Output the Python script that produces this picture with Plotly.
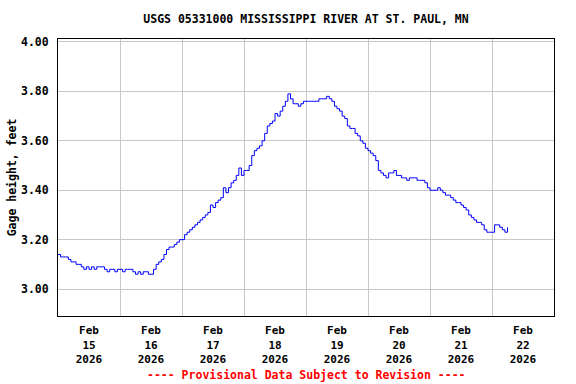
import pandas as pd
import plotly.graph_objects as go

# Gage height (feet), hourly readings starting 2026-02-15 00:00
start = "2026-02-15 00:00"
gage_feb15 = [3.14, 3.13, 3.13, 3.13, 3.12, 3.11, 3.11, 3.10, 3.10, 3.09, 3.08, 3.09,
              3.08, 3.09, 3.08, 3.09, 3.09, 3.09, 3.08, 3.07, 3.08, 3.08, 3.07, 3.08]
gage_feb16 = [3.08, 3.07, 3.08, 3.08, 3.08, 3.07, 3.06, 3.07, 3.06, 3.07, 3.07, 3.06,
              3.06, 3.08, 3.10, 3.11, 3.12, 3.14, 3.16, 3.17, 3.17, 3.18, 3.19, 3.20]
gage_feb17 = [3.20, 3.22, 3.23, 3.24, 3.25, 3.26, 3.27, 3.28, 3.29, 3.30, 3.31, 3.34,
              3.33, 3.35, 3.36, 3.37, 3.41, 3.39, 3.41, 3.43, 3.44, 3.46, 3.49, 3.46]
gage_feb18 = [3.48, 3.48, 3.50, 3.54, 3.56, 3.57, 3.58, 3.60, 3.63, 3.66, 3.67, 3.68,
              3.71, 3.70, 3.72, 3.74, 3.76, 3.79, 3.77, 3.75, 3.75, 3.74, 3.75, 3.76]
gage_feb19 = [3.76, 3.76, 3.76, 3.76, 3.76, 3.77, 3.77, 3.77, 3.78, 3.77, 3.76, 3.74,
              3.73, 3.72, 3.70, 3.69, 3.66, 3.65, 3.65, 3.63, 3.62, 3.60, 3.59, 3.57]
gage_feb20 = [3.56, 3.55, 3.54, 3.52, 3.48, 3.47, 3.46, 3.45, 3.47, 3.47, 3.48, 3.46,
              3.46, 3.45, 3.45, 3.44, 3.45, 3.45, 3.45, 3.44, 3.44, 3.44, 3.43, 3.41]
gage_feb21 = [3.40, 3.40, 3.40, 3.41, 3.40, 3.39, 3.38, 3.38, 3.37, 3.36, 3.35, 3.35,
              3.34, 3.33, 3.32, 3.30, 3.29, 3.28, 3.27, 3.27, 3.26, 3.24, 3.23, 3.23]
gage_feb22 = [3.23, 3.26, 3.26, 3.25, 3.24, 3.23, 3.25]

values = (gage_feb15 + gage_feb16 + gage_feb17 + gage_feb18 +
          gage_feb19 + gage_feb20 + gage_feb21 + gage_feb22)
times = pd.date_range(start, periods=len(values), freq="h")

y_ticks = [3.00, 3.20, 3.40, 3.60, 3.80, 4.00]
title = "USGS 05331000 MISSISSIPPI RIVER AT ST. PAUL, MN"
footer = "---- Provisional Data Subject to Revision ----"

FONT = "DejaVu Sans Mono"

fig = go.Figure()
fig.add_trace(go.Scatter(x=times, y=values, mode="lines",
                         line=dict(color="#0000FF", width=1, shape="hv"),
                         showlegend=False))

fig.update_layout(
    width=576, height=384,
    margin=dict(l=58, r=22, t=39, b=68, autoexpand=False),
    paper_bgcolor="white", plot_bgcolor="white",
    font=dict(family=FONT, size=11, color="black", weight="bold"),
    title=dict(text=title, x=0.5, xref="paper", xanchor="center",
               y=1 - 19 / 384, yanchor="middle", yref="container",
               font=dict(family=FONT, size=11.5, color="black", weight="bold")),
    annotations=[dict(text=footer, xref="paper", yref="paper", x=0.5, y=-59 / 277,
                      xanchor="center", yanchor="middle", showarrow=False,
                      font=dict(family=FONT, size=11.5, color="#FF0000", weight="bold"))],
)

fig.update_xaxes(
    type="date", range=["2026-02-15 00:00", "2026-02-23 00:00"],
    tick0="2026-02-15 00:00", dtick=86400000, ticklabelmode="period",
    tickformat="%b<br>%d<br>%Y", ticks="", ticklabelstandoff=4,
    showgrid=True, gridcolor="#C8C8C8", gridwidth=1,
    showline=True, linecolor="black", linewidth=1, mirror=True,
    zeroline=False, automargin=False,
    tickfont=dict(family=FONT, size=11, weight="bold"),
)
fig.update_yaxes(
    range=[2.891, 4.012], tickvals=y_ticks, tickformat=".2f", ticks="",
    ticklabelstandoff=6, automargin=False,
    showgrid=True, gridcolor="#C8C8C8", gridwidth=1,
    showline=True, linecolor="black", linewidth=1, mirror=True, zeroline=False,
    title=dict(text="Gage height, feet", standoff=1,
               font=dict(family=FONT, size=11.5, weight="bold")),
    tickfont=dict(family=FONT, size=11.5, weight="bold"),
)

fig.write_html("out.html", config={"displayModeBar": False},
               post_script="document.body.style.margin='0';document.body.style.padding='0';")
